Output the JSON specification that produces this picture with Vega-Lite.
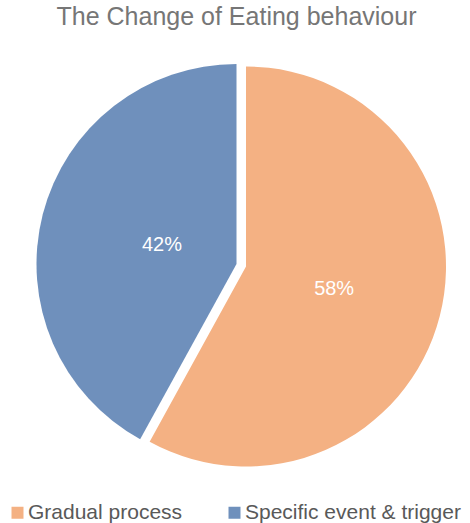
{
  "$schema": "https://vega.github.io/schema/vega-lite/v6.json",
  "autosize": {"type": "none"},
  "width": 469,
  "height": 400,
  "padding": {"top": 64, "left": 2, "right": 0, "bottom": 59},
  "background": "white",
  "config": {
    "view": {"stroke": null},
    "font": "Liberation Sans"
  },
  "title": {
    "text": "The Change of Eating behaviour",
    "fontSize": 25,
    "fontWeight": "normal",
    "color": "#767676",
    "font": "Liberation Sans",
    "anchor": "middle",
    "offset": 34
  },
  "data": {
    "values": [
      {"category": "Gradual process", "share": 0.58},
      {"category": "Specific event & trigger", "share": 0.42}
    ]
  },
  "encoding": {
    "theta": {"field": "share", "type": "quantitative", "stack": true},
    "color": {
      "field": "category",
      "type": "nominal",
      "sort": ["Gradual process", "Specific event & trigger"],
      "scale": {"domain": ["Gradual process", "Specific event & trigger"], "range": ["#F4B183", "#6F90BC"]},
      "legend": {
        "title": null,
        "orient": "none",
        "legendX": 5,
        "legendY": 438,
        "direction": "horizontal",
        "symbolType": "square",
        "symbolSize": 144,
        "symbolStrokeWidth": 0,
        "labelFontSize": 21,
        "labelColor": "#595959",
        "labelFont": "Liberation Sans",
        "labelLimit": 400,
        "columnPadding": 41,
        "labelOffset": 0
      }
    }
  },
  "layer": [
    {
      "mark": {"type": "arc", "radius": 200},
      "encoding": {
        "opacity": {"condition": {"test": "datum.category === 'Specific event & trigger'", "value": 1}, "value": 0}
      }
    },
    {
      "mark": {"type": "arc", "radius": 200, "xOffset": 9.5, "yOffset": 2.5},
      "encoding": {
        "opacity": {"condition": {"test": "datum.category === 'Gradual process'", "value": 1}, "value": 0}
      }
    },
    {
      "mark": {"type": "text", "radius": 77, "fontSize": 20, "font": "Liberation Sans"},
      "encoding": {
        "text": {"field": "share", "type": "quantitative", "format": ".0%"},
        "order": {"field": "category", "type": "ordinal", "sort": "ascending"},
        "color": {"value": "white"},
        "opacity": {"condition": {"test": "datum.category === 'Specific event & trigger'", "value": 1}, "value": 0}
      }
    },
    {
      "mark": {"type": "text", "radius": 91, "xOffset": 9.5, "yOffset": 2.5, "fontSize": 20, "font": "Liberation Sans"},
      "encoding": {
        "text": {"field": "share", "type": "quantitative", "format": ".0%"},
        "order": {"field": "category", "type": "ordinal", "sort": "ascending"},
        "color": {"value": "white"},
        "opacity": {"condition": {"test": "datum.category === 'Gradual process'", "value": 1}, "value": 0}
      }
    }
  ]
}
